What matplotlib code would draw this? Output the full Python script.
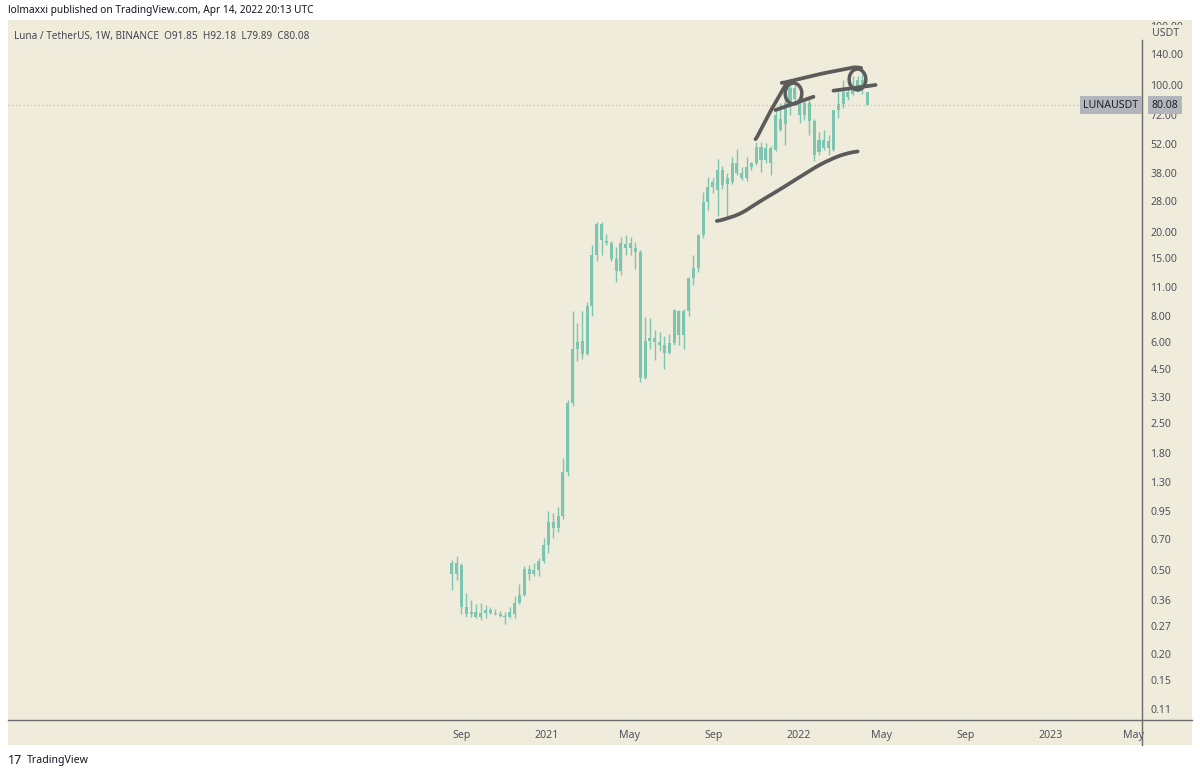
import matplotlib
matplotlib.use('Agg')
import matplotlib.pyplot as plt
import matplotlib.dates as mdates
from matplotlib.patches import Rectangle
from matplotlib.lines import Line2D
from matplotlib.path import Path
import numpy as np
import pandas as pd

plt.rcParams['font.family'] = ['Noto Sans', 'DejaVu Sans']

# velas semanales LUNA/USDT (lunes de cada semana)
semanas = pd.date_range('2020-08-17', periods=87, freq='7D')

aperturas = [0.48, 0.54, 0.53, 0.335, 0.31, 0.315, 0.30, 0.312, 0.322, 0.314,
             0.31, 0.302, 0.298, 0.31, 0.35, 0.38, 0.505, 0.48, 0.50, 0.55,
             0.655, 0.84, 0.79, 0.90, 1.46, 3.08, 5.6, 6.1, 5.3, 8.9,
             15.6, 21.8, 18.2, 17.8, 14.9, 13.1, 17.6, 16.8, 16.8, 16.0,
             4.05, 6.1, 6.3, 6.0, 5.8, 5.35, 5.95, 8.4, 6.5, 8.4,
             12.1, 13.5, 19.4, 27.8, 32.7, 31.5, 33.4, 36.0, 34.5, 42.3,
             38.0, 36.1, 40.8, 42.3, 50.8, 43.9, 50.0, 48.9, 69.0, 65.0,
             82.0, 96.0, 85.0, 72.0, 82.0, 67.0, 48.0, 54.6, 50.2, 49.0,
             75.7, 81.0, 92.0, 90.4, 96.0, 105.0, 91.85]
maximos = [0.56, 0.58, 0.54, 0.39, 0.36, 0.345, 0.35, 0.34, 0.335, 0.325,
           0.318, 0.316, 0.335, 0.375, 0.43, 0.52, 0.53, 0.54, 0.57, 0.71,
           0.95, 0.93, 1.0, 1.70, 3.2, 8.4, 7.4, 8.4, 9.3, 17.4,
           22.4, 22.3, 19.5, 18.2, 17.0, 19.0, 19.4, 19.0, 18.0, 16.5,
           7.9, 7.8, 6.9, 6.7, 6.4, 6.6, 8.6, 8.5, 8.6, 12.2,
           15.6, 19.5, 31.0, 36.6, 36.0, 44.3, 41.0, 38.2, 45.4, 49.7,
           40.8, 45.4, 43.1, 53.3, 53.3, 52.6, 51.0, 75.7, 81.4, 100.0,
           100.0, 104.0, 90.0, 85.0, 86.0, 69.0, 59.7, 61.0, 57.6, 76.0,
           92.5, 105.0, 95.0, 110.0, 110.0, 119.0, 92.18]
minimos = [0.40, 0.45, 0.31, 0.30, 0.30, 0.295, 0.29, 0.295, 0.31, 0.305,
           0.298, 0.277, 0.296, 0.295, 0.345, 0.375, 0.45, 0.47, 0.47, 0.54,
           0.60, 0.71, 0.76, 0.87, 1.40, 3.0, 4.9, 5.0, 5.2, 8.0,
           14.5, 15.6, 17.3, 14.5, 11.6, 12.5, 15.6, 15.5, 13.3, 3.9,
           4.0, 5.6, 4.95, 5.45, 4.5, 5.3, 5.8, 5.8, 5.6, 8.0,
           11.2, 12.9, 18.8, 25.5, 30.5, 23.7, 32.0, 23.7, 33.9, 37.4,
           35.3, 35.0, 39.5, 41.5, 38.7, 42.3, 37.4, 48.3, 60.0, 51.7,
           72.0, 81.0, 65.6, 68.0, 57.6, 43.6, 46.3, 49.0, 46.3, 48.3,
           69.4, 77.0, 84.0, 89.0, 92.4, 90.0, 79.89]
cierres = [0.54, 0.48, 0.335, 0.31, 0.315, 0.30, 0.312, 0.322, 0.314, 0.31,
           0.302, 0.298, 0.316, 0.35, 0.38, 0.505, 0.48, 0.50, 0.55, 0.655,
           0.84, 0.79, 0.90, 1.46, 3.08, 5.6, 6.0, 5.3, 8.9, 15.6,
           21.8, 18.3, 17.8, 14.9, 13.1, 17.8, 16.8, 17.7, 16.0, 4.05,
           6.1, 6.3, 6.0, 5.8, 5.33, 5.95, 8.5, 6.5, 8.4, 12.1,
           13.5, 19.4, 27.8, 32.7, 34.5, 39.3, 39.3, 33.6, 42.3, 38.0,
           36.1, 40.8, 42.3, 50.8, 43.9, 50.0, 42.3, 71.7, 61.0, 82.0,
           96.0, 85.0, 72.0, 82.0, 67.0, 46.5, 54.6, 50.2, 54.0, 75.7,
           81.0, 92.0, 87.0, 101.0, 105.0, 97.5, 80.08]

ultimo = 80.08

# escala de la derecha
ticks_precio = [0.11, 0.15, 0.20, 0.27, 0.36, 0.50, 0.70, 0.95, 1.30, 1.80, 2.50,
                3.30, 4.50, 6.00, 8.00, 11.00, 15.00, 20.00, 28.00, 38.00,
                52.00, 72.00, 100.00, 140.00, 190.00]
ticks_fecha = ['2020-09-01', '2021-01-01', '2021-05-01', '2021-09-01', '2022-01-01',
               '2022-05-01', '2022-09-01', '2023-01-01', '2023-05-01']
etiquetas_fecha = ['Sep', '2021', 'May', 'Sep', '2022', 'May', 'Sep', '2023', 'May']

# dibujos a mano sobre el grafico (fecha, precio)
curva_baja_f = ['2021-09-05', '2021-10-09', '2021-11-03', '2021-12-06', '2022-01-04',
                '2022-02-02', '2022-03-03', '2022-03-28']
curva_baja_p = [22.4, 24.3, 27.5, 31.9, 36.6, 41.9, 46.3, 48.4]
linea_alta_f = ['2021-12-08', '2022-02-06', '2022-03-28', '2022-04-02']
linea_alta_p = [101.5, 113.0, 121.5, 119.0]
linea_sube_f = ['2021-10-31', '2021-11-22', '2021-12-16']
linea_sube_p = [54.6, 75.0, 102.8]
corto1_f = ['2021-11-29', '2022-01-23']
corto1_p = [75.7, 87.5]
corto2_f = ['2022-02-21', '2022-04-23']
corto2_p = [93.5, 99.5]
circulos_f = ['2021-12-25', '2022-03-27']
circulos_p = [91.0, 106.5]

fondo = '#f0ecdc'
verde = '#7cc5b1'
gris_dibujo = '#5b5b5b'
gris_texto = '#4f525c'

fig = plt.figure(figsize=(12, 7.75), dpi=100)
W, H = 1200, 775
fx = lambda x: x / W
fy = lambda y: 1 - y / H

fig.patches.append(Rectangle((fx(8), fy(745)), (1192 - 8) / W, (745 - 20) / H,
                             transform=fig.transFigure, facecolor=fondo,
                             edgecolor='none', zorder=-5))

ax = fig.add_axes([fx(8), fy(720), (1142 - 8) / W, (720 - 20) / H])
ax.set_zorder(1)
ax.patch.set_alpha(0)
ax.set_yscale('log')
ax.set_ylim(0.0973, 202.2)
ax.set_xlim(mdates.date2num(pd.Timestamp('2018-11-13')),
            mdates.date2num(pd.Timestamp('2023-05-14')))
for s in ax.spines.values():
    s.set_visible(False)

x = mdates.date2num(semanas)
abajo = np.minimum(aperturas, cierres)
alto = np.abs(np.array(cierres) - np.array(aperturas))
alto = np.maximum(alto, np.array(abajo) * 0.008)
ax.vlines(x, minimos, maximos, color=verde, lw=1, zorder=2)
ax.bar(x, alto, bottom=abajo, width=4.4, color=verde, zorder=2)

ax.axhline(ultimo, color='#c4c0b2', lw=0.9, ls=(0, (1, 2)), zorder=1)

# dibujos
estilo = dict(color=gris_dibujo, lw=2.7, solid_capstyle='round', zorder=4)
for fs, ps in [(curva_baja_f, curva_baja_p), (linea_alta_f, linea_alta_p),
               (linea_sube_f, linea_sube_p), (corto1_f, corto1_p), (corto2_f, corto2_p)]:
    xs = mdates.date2num(pd.to_datetime(fs))
    if len(xs) > 2:
        xx = np.linspace(xs[0], xs[-1], 60)
        yy = np.exp(np.interp(xx, xs, np.log(ps)))
        # suavizado leve
        k = np.ones(7) / 7
        yy = np.exp(np.convolve(np.pad(np.log(yy), 3, mode='edge'), k, mode='valid'))
        ax.plot(xx, yy, **estilo)
    else:
        ax.plot(xs, ps, **estilo)

t = np.linspace(0, 2 * np.pi, 60)
elipse = Path(np.column_stack([0.8 * np.cos(t), np.sin(t)]))
ax.plot(mdates.date2num(pd.to_datetime(circulos_f)), circulos_p, ls='none',
        marker=elipse, markersize=15, mfc='none', mec=gris_dibujo, mew=2.5, zorder=4)

# ejes
ax.yaxis.tick_right()
ax.set_yticks(ticks_precio)
ax.set_yticklabels(['%.2f' % v for v in ticks_precio])
ax.yaxis.set_minor_locator(matplotlib.ticker.NullLocator())
ax.tick_params(axis='y', length=0, pad=6, labelsize=7.6, labelcolor=gris_texto)
ax.set_xticks(mdates.date2num(pd.to_datetime(ticks_fecha)))
ax.set_xticklabels(etiquetas_fecha)
ax.tick_params(axis='x', length=0, pad=7, labelsize=7.6, labelcolor=gris_texto)
for lab in ax.get_xticklabels():
    if lab.get_text().isdigit():
        lab.set_fontweight('bold')

# lineas de los ejes
fig.add_artist(Line2D([fx(1142), fx(1142)], [fy(40), fy(745)], color='#6b6b6b', lw=1, zorder=3))
fig.add_artist(Line2D([fx(8), fx(1192)], [fy(720), fy(720)], color='#6b6b6b', lw=1, zorder=3))

fig.patches.append(Rectangle((fx(8), fy(20)), 1, 20 / H, transform=fig.transFigure,
                             facecolor='white', edgecolor='none', zorder=5))
fig.text(fx(1166), fy(34), 'USDT', fontsize=7.6, color=gris_texto, ha='center', va='center',
         bbox=dict(boxstyle='square,pad=0.3', fc=fondo, ec='none'), zorder=6)

# etiquetas del precio actual
caja = dict(boxstyle='square,pad=0.3', fc='#b3b5bd', ec='none')
fig.text(fx(1111), fy(105), 'LUNAUSDT', fontsize=7.6, color='#202124', ha='center', va='center',
         bbox=caja, zorder=6)
fig.text(fx(1165), fy(105), '%.2f' % ultimo, fontsize=7.6, color='#202124', ha='center', va='center',
         bbox=dict(boxstyle='square,pad=0.3', fc='#b3b5bd', ec='none'), zorder=6)

# textos
fig.text(fx(8), fy(11), 'lolmaxxi published on TradingView.com, Apr 14, 2022 20:13 UTC',
         fontsize=7.3, color='#131722', va='center', zorder=7)
fig.text(fx(14), fy(36), 'Luna / TetherUS, 1W, BINANCE  O91.85  H92.18  L79.89  C80.08',
         fontsize=7.2, color='#444650', va='center', zorder=6)
fig.text(fx(8), fy(760), '17', fontsize=9, fontweight='bold', color='#131722', va='center')
fig.text(fx(27), fy(760), 'TradingView', fontsize=7.6, color='#131722', va='center')

fig.savefig('out.png', dpi=100, facecolor='white')
